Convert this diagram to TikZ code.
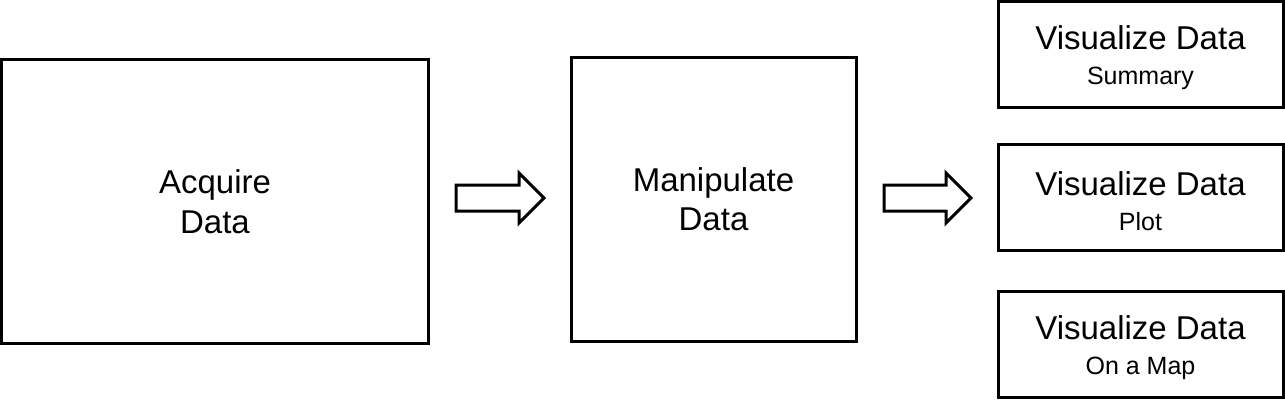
\documentclass[tikz,border=0pt]{standalone}
\usepackage{fontspec}
\setmainfont{Liberation Sans}
\newcommand{\vistext}[1]{\raisebox{-4pt}[\height][\depth]{\parbox{280pt}{\centering Visualize Data\\[-4pt]{\fontsize{25}{28}\selectfont #1}}}}
\begin{document}
\begin{tikzpicture}[x=1pt,y=-1pt,line width=3pt,
  box/.style={draw=black,inner sep=0pt,outer sep=0pt,align=center,
    font=\fontsize{33}{39}\selectfont},
  blockarrow/.style={draw=black,fill=white,line join=miter}]
\useasboundingbox (0,0) rectangle (1285,400);
\node[box,minimum width=427pt,minimum height=284pt] (A) at (215,201.5) {Acquire\\[1pt]Data};
\node[box,minimum width=285pt,minimum height=284pt] (M) at (713.5,199.5) {Manipulate\\Data};
\node[box,minimum width=285pt,minimum height=106pt] (V1) at (1140.5,54) {\vistext{Summary}};
\node[box,minimum width=285pt,minimum height=106pt] (V2) at (1140.5,197) {\vistext{Plot}};
\node[box,minimum width=285pt,minimum height=106pt] (V3) at (1140.5,344) {\vistext{On a Map}};
% block arrows
\coordinate (a1) at (456,198);
\coordinate (a2) at (884,198);
\draw[blockarrow] (a1) ++(0,-13) -- ++(63,0) -- ++(0,-12) -- ++(25,25) -- ++(-25,25) -- ++(0,-12) -- ++(-63,0) -- cycle;
\draw[blockarrow] (a2) ++(0,-13) -- ++(62,0) -- ++(0,-12) -- ++(25,25) -- ++(-25,25) -- ++(0,-12) -- ++(-62,0) -- cycle;
\end{tikzpicture}
\end{document}
